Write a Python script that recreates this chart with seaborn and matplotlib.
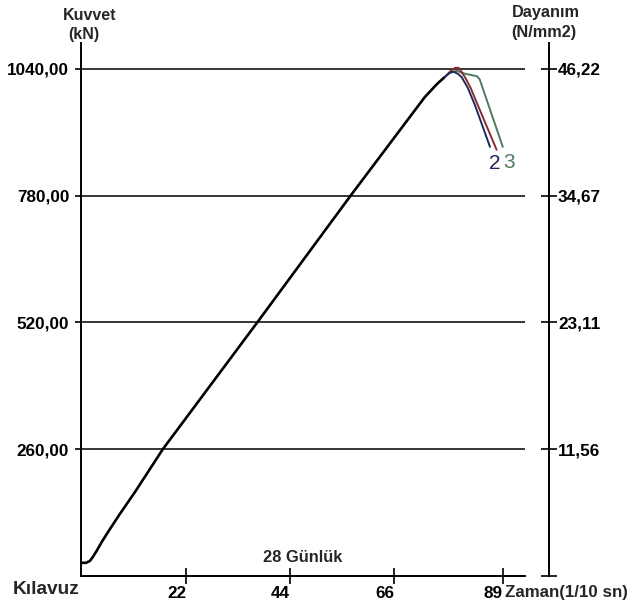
import matplotlib
matplotlib.use("Agg")
import matplotlib.pyplot as plt
import seaborn as sns
import pandas as pd

sns.set_theme(style="white")
plt.rcParams['font.family'] = ['Liberation Sans', 'DejaVu Sans']

# ---- data ----
base_x = [0.0, 0.85, 1.7, 2.3, 3.2, 4.2, 5.5, 8.0, 11.2, 17.1, 37.0, 56.9, 72.5, 75.1, 76.7]
base_y = [27, 27, 31, 39, 53, 70, 90, 127, 172, 260, 519, 781, 982, 1009, 1023]

s2_x = [76.7, 77.8, 78.6, 79.5, 80.3, 81.6, 83.1, 86.3]
s2_y = [1023, 1032, 1034, 1030, 1023, 1001, 966, 880]

s1_x = [76.7, 77.8, 78.9, 79.7, 81.0, 82.2, 83.7, 87.7]
s1_y = [1023, 1034, 1042, 1042, 1023, 1001, 966, 874]

s3_x = [76.7, 77.8, 79.3, 81.0, 83.5, 84.1, 89.0]
s3_y = [1023, 1032, 1036, 1030, 1025, 1019, 880]

x_ticks = [22, 44, 66, 89]
x_ticklabels = ["22", "44", "66", "89"]
y_ticks = [260, 520, 780, 1040]
y_ticklabels = ["260,00", "520,00", "780,00", "1040,00"]
r_ticks = [0, 260, 520, 780, 1040]
r_ticklabels = ["", "11,56", "23,11", "34,67", "46,22"]

W, H = 630, 607
fig = plt.figure(figsize=(W / 100, H / 100), dpi=100)
fig.patch.set_facecolor("white")

ax = fig.add_axes([81 / W, (H - 576) / H, (525 - 81) / W, (576 - 43) / H])
ax.set_facecolor("white")

# curves
series = [
    (base_x, base_y, "black", 1.9),
    (s3_x, s3_y, "#4f7a60", 1.4),
    (s1_x, s1_y, "#8c2b2b", 1.4),
    (s2_x, s2_y, "#1f2a5c", 1.4),
]
for xs, ys, col, lw in series:
    df = pd.DataFrame({"t": xs, "f": ys})
    sns.lineplot(data=df, x="t", y="f", sort=False, estimator=None,
                 color=col, linewidth=lw, ax=ax)
ax.set_xlabel("")
ax.set_ylabel("")
ax.set_xlim(-0.2, 93.7)
ax.set_ylim(0, 1093)

for s in ["top", "right"]:
    ax.spines[s].set_visible(False)
for s in ["left", "bottom"]:
    ax.spines[s].set_color("black")
    ax.spines[s].set_linewidth(1.4)

ax.tick_params(axis="y", direction="out", length=4.5, width=1.2, pad=4, colors="black", left=True)
ax.tick_params(axis="x", direction="inout", length=11, width=1.2, pad=2, colors="black", bottom=True)

ax.set_yticks(y_ticks)
ax.set_yticklabels(y_ticklabels, fontsize=12.3, fontweight="bold")
ax.yaxis.grid(True, color="black", linewidth=1.1)
ax.xaxis.grid(False)
ax.set_axisbelow(True)

ax.set_xticks(x_ticks)
ax.set_xticklabels(x_ticklabels, fontsize=12.3, fontweight="bold", ha="right")

# right axis
tw = ax.twinx()
tw.set_ylim(0, 1093)
for s in ["top", "left", "bottom"]:
    tw.spines[s].set_visible(False)
tw.spines["right"].set_position(("outward", 24 * 0.72))
tw.spines["right"].set_color("black")
tw.spines["right"].set_linewidth(1.4)
tw.tick_params(axis="y", direction="inout", length=11, width=1.2, pad=1, colors="black",
               right=True, labelright=True, labelsize=12.3)
tw.grid(False)
tw.set_yticks(r_ticks)
tw.set_yticklabels(r_ticklabels)
for lab in tw.get_yticklabels(which="both"):
    lab.set_fontweight("bold")
    lab.set_fontsize(12.3)
for t in tw.yaxis.get_major_ticks():
    t.label2.set_fontweight("bold")
    t.label2.set_fontsize(12.3)


def ftext(px, py, s, **kw):
    fig.text(px / W, 1 - py / H, s, **kw)


ftext(90, 15, "Kuvvet", ha="center", va="center", fontsize=11.5, fontweight="bold")
ftext(84, 35, "(kN)", ha="center", va="center", fontsize=11.5, fontweight="bold")
ftext(546, 12, "Dayanım", ha="center", va="center", fontsize=11.7, fontweight="bold")
ftext(544, 32, "(N/mm2)", ha="center", va="center", fontsize=11.7, fontweight="bold")
ftext(13, 589, "Kılavuz", ha="left", va="center", fontsize=13.8, fontweight="bold")
ftext(303, 558, "28 Günlük", ha="center", va="center", fontsize=11.9, fontweight="bold")
ftext(505, 592, "Zaman(1/10 sn)", ha="left", va="center", fontsize=12.2, fontweight="bold")
ftext(495, 163, "2", ha="center", va="center", fontsize=15, color="#1f2a5c")
ftext(509, 162, "3", ha="center", va="center", fontsize=15, color="#4f7a60")

fig.savefig("out.png", dpi=100, facecolor="white")
